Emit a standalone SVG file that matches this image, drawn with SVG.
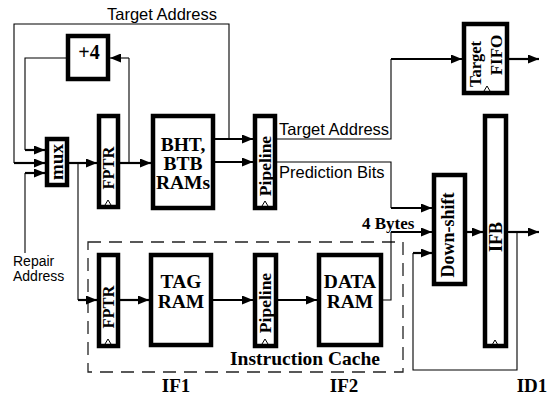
<svg xmlns="http://www.w3.org/2000/svg" width="555" height="396" viewBox="0 0 555 396">
<defs>
<marker id="ah" markerUnits="userSpaceOnUse" markerWidth="11" markerHeight="9" refX="11" refY="4.5" orient="auto">
<path d="M0,0 L11,4.5 L0,9 z" fill="#000"/>
</marker>
<style>
.box{fill:#fff;stroke:#000;stroke-width:4.5}
.thin{fill:none;stroke:#000;stroke-width:1.1}
.arr{fill:none;stroke:#000;stroke-width:2.2;marker-end:url(#ah)}
.arrt{fill:none;stroke:#000;stroke-width:1.1;marker-end:url(#ah)}
.clk{fill:none;stroke:#000;stroke-width:1}
.bs{font-family:"Liberation Serif","Times New Roman",serif;font-weight:bold;fill:#000}
.ss{font-family:"Liberation Sans",Arial,sans-serif;fill:#000}
.dash{fill:none;stroke:#222;stroke-width:1.3;stroke-dasharray:13 8}
</style>
</defs>
<rect width="555" height="396" fill="#fff"/>
<rect class="dash" x="88" y="242" width="315" height="130"/>

<g id="connectors">
<path class="thin" d="M229,139 V24 H14 V163"/>
<line class="arr" x1="14" y1="163" x2="45" y2="163"/>
<path class="thin" d="M66,58 H25 V150"/>
<line class="arr" x1="25" y1="150" x2="45" y2="150"/>
<path class="thin" d="M25,253 V173"/>
<line class="arr" x1="25" y1="173" x2="45" y2="173"/>
<line class="arr" x1="69" y1="163" x2="97" y2="163"/>
<path class="thin" d="M78,163 V300"/>
<line class="arr" x1="78" y1="300" x2="97" y2="300"/>
<line class="arr" x1="120" y1="163" x2="151" y2="163"/>
<path class="thin" d="M129,163 V58"/>
<line class="arrt" x1="129" y1="58" x2="110" y2="58"/>
<line class="arr" x1="215" y1="139" x2="253" y2="139"/>
<line class="arr" x1="215" y1="162" x2="253" y2="162"/>
<path class="thin" d="M277,139 H391 V59"/>
<line class="arr" x1="391" y1="59" x2="462" y2="59"/>
<path class="thin" d="M277,162 H391 V208"/>
<line class="arr" x1="391" y1="208" x2="432" y2="208"/>
<line class="arr" x1="509" y1="59" x2="539" y2="59"/>
<path class="thin" d="M383,300 H391 V232"/>
<line class="arr" x1="391" y1="232" x2="432" y2="232"/>
<line class="arr" x1="467" y1="232" x2="483" y2="232"/>
<line class="arr" x1="508" y1="232" x2="539" y2="232"/>
<path class="thin" d="M517,232 V370 H413 V253"/>
<line class="arr" x1="413" y1="253" x2="432" y2="253"/>
<line class="arr" x1="120" y1="300" x2="149" y2="300"/>
<line class="arr" x1="213" y1="300" x2="253" y2="300"/>
<line class="arr" x1="278" y1="300" x2="317" y2="300"/>
</g>

<g id="plus4">
<rect class="box" x="68" y="36" width="40" height="43"/>
<text class="bs" x="89" y="59" font-size="20" text-anchor="middle">+4</text>
</g>
<g id="mux">
<rect class="box" x="47" y="139" width="20" height="46"/>
<text class="bs" font-size="19" text-anchor="middle" transform="translate(63,162) rotate(-90)">mux</text>
</g>
<g id="fptr1">
<rect class="box" x="99" y="116" width="19" height="91"/>
<text class="bs" font-size="16.5" text-anchor="middle" transform="translate(114,168) rotate(-90)">FPTR</text>
<polyline class="clk" points="105,205 108,200 111,205"/>
</g>
<g id="bht">
<rect class="box" x="153" y="116" width="60" height="92"/>
<text class="bs" font-size="19.5" text-anchor="middle" x="183" y="151">BHT,</text>
<text class="bs" font-size="19.5" text-anchor="middle" x="183" y="170">BTB</text>
<text class="bs" font-size="19.5" text-anchor="middle" x="183" y="189">RAMs</text>
</g>
<g id="pipe1">
<rect class="box" x="255" y="116" width="20" height="92"/>
<text class="bs" font-size="17.5" text-anchor="middle" transform="translate(271,166) rotate(-90)">Pipeline</text>
<polyline class="clk" points="262,206 265,201 268,206"/>
</g>
<g id="fifo">
<rect class="box" x="464" y="24" width="43" height="69"/>
<text class="bs" font-size="16.5" text-anchor="middle" transform="translate(481,64) rotate(-90)">Target</text>
<text class="bs" font-size="17" text-anchor="middle" transform="translate(502,55) rotate(-90)">FIFO</text>
<polyline class="clk" points="484,91 487,86 490,91"/>
</g>
<g id="downshift">
<rect class="box" x="434" y="175" width="31" height="109"/>
<text class="bs" font-size="18" text-anchor="middle" transform="translate(454,235) rotate(-90)">Down-shift</text>
</g>
<g id="ifb">
<rect class="box" x="485" y="116" width="21" height="230"/>
<text class="bs" font-size="18" text-anchor="middle" transform="translate(502,237) rotate(-90)">IFB</text>
<polyline class="clk" points="492,345 495,340 498,345"/>
</g>
<g id="fptr2">
<rect class="box" x="99" y="255" width="19" height="91"/>
<text class="bs" font-size="16.5" text-anchor="middle" transform="translate(114,307) rotate(-90)">FPTR</text>
<polyline class="clk" points="105,344 108,339 111,344"/>
</g>
<g id="tagram">
<rect class="box" x="151" y="255" width="60" height="90"/>
<text class="bs" font-size="19.5" text-anchor="middle" x="181" y="288">TAG</text>
<text class="bs" font-size="19.5" text-anchor="middle" x="181" y="308">RAM</text>
</g>
<g id="pipe2">
<rect class="box" x="255" y="255" width="21" height="91"/>
<text class="bs" font-size="17.5" text-anchor="middle" transform="translate(271,303) rotate(-90)">Pipeline</text>
<polyline class="clk" points="262,344 265,339 268,344"/>
</g>
<g id="dataram">
<rect class="box" x="319" y="255" width="62" height="90"/>
<text class="bs" font-size="19.5" text-anchor="middle" x="350" y="288">DATA</text>
<text class="bs" font-size="19.5" text-anchor="middle" x="350" y="308">RAM</text>
</g>

<g id="labels">
<text class="ss" font-size="16.5" x="162" y="20" text-anchor="middle">Target Address</text>
<text class="ss" font-size="16.5" x="279" y="135">Target Address</text>
<text class="ss" font-size="16.5" x="279" y="178">Prediction Bits</text>
<text class="ss" font-size="14" x="13" y="266">Repair</text>
<text class="ss" font-size="14" x="13" y="281">Address</text>
<text class="bs" font-size="17" x="362" y="229">4 Bytes</text>
<text class="bs" font-size="19.5" x="305" y="365" text-anchor="middle">Instruction Cache</text>
<text class="bs" font-size="19" x="176" y="392" text-anchor="middle">IF1</text>
<text class="bs" font-size="19" x="344" y="392" text-anchor="middle">IF2</text>
<text class="bs" font-size="19" x="532" y="392" text-anchor="middle">ID1</text>
</g>
</svg>
